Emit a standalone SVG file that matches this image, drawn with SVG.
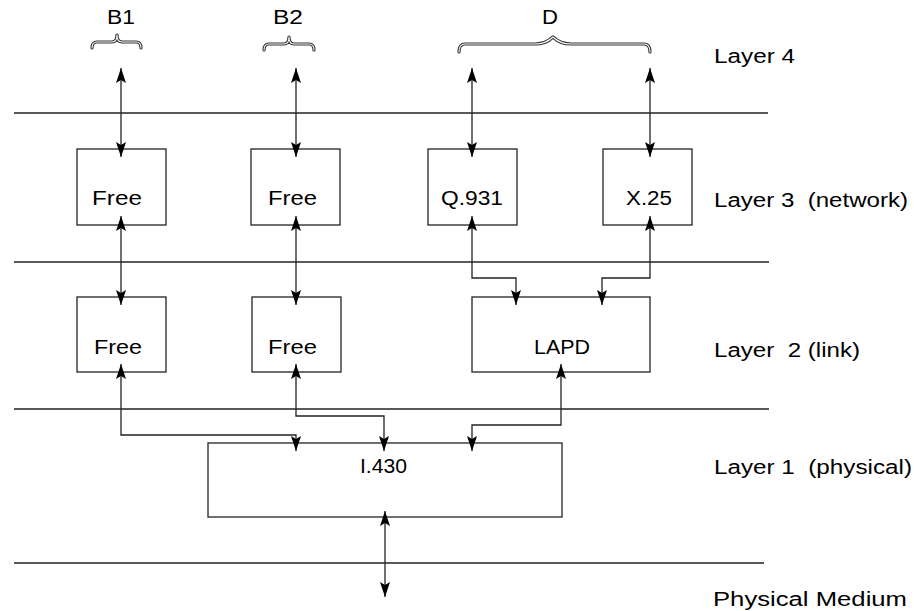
<svg xmlns="http://www.w3.org/2000/svg" width="914" height="611" viewBox="0 0 914 611">
<style>
.t{font-family:"Liberation Sans",Arial,sans-serif;font-size:20px;fill:#000;white-space:pre}
.box{fill:#fff;stroke:#222;stroke-width:1.3}
.sep{stroke:#222;stroke-width:1.3;fill:none}
.c{stroke:#222;stroke-width:1.3;fill:none;marker-start:url(#ah);marker-end:url(#ah)}
.br{fill:none;stroke:#333;stroke-width:3.2;stroke-linejoin:round;stroke-linecap:round}
.bri{fill:none;stroke:#fff;stroke-width:1.1;stroke-linejoin:round;stroke-linecap:round}
</style>
<defs>
<marker id="ah" markerUnits="userSpaceOnUse" markerWidth="15" markerHeight="11" viewBox="0 0 15 11" refX="15" refY="5.5" orient="auto-start-reverse">
<path d="M0,0.5 L15,5.5 L0,10.5 L3,5.5 z" fill="#000"/>
</marker>
</defs>

<g id="separators">
<line class="sep" x1="14" y1="113" x2="768" y2="113"/>
<line class="sep" x1="14" y1="262" x2="769" y2="262"/>
<line class="sep" x1="14" y1="409" x2="769" y2="409"/>
<line class="sep" x1="14" y1="563" x2="764" y2="563"/>
</g>

<g id="braces">
<g id="brace-B1">
<path class="br" d="M92,48 Q92,42 97,42 L112,42 Q117,42 117,35 Q117,42 122,42 L136,42 Q141,42 141,48"/>
<path class="bri" d="M92,48 Q92,42 97,42 L112,42 Q117,42 117,35 Q117,42 122,42 L136,42 Q141,42 141,48"/>
<text class="t" x="107" y="24" textLength="28" lengthAdjust="spacingAndGlyphs">B1</text>
</g>
<g id="brace-B2">
<path class="br" d="M264,50 Q264,44 269,44 L284,44 Q289,44 289,37 Q289,44 294,44 L309,44 Q314,44 314,50"/>
<path class="bri" d="M264,50 Q264,44 269,44 L284,44 Q289,44 289,37 Q289,44 294,44 L309,44 Q314,44 314,50"/>
<text class="t" x="273" y="24" textLength="30" lengthAdjust="spacingAndGlyphs">B2</text>
</g>
<g id="brace-D">
<path class="br" d="M459,52 Q459,44 465,44 L535,44 Q546,44 553,37 Q560,44 571,44 L644,44 Q650,44 650,52"/>
<path class="bri" d="M459,52 Q459,44 465,44 L535,44 Q546,44 553,37 Q560,44 571,44 L644,44 Q650,44 650,52"/>
<text class="t" x="542" y="24" textLength="16" lengthAdjust="spacingAndGlyphs">D</text>
</g>
</g>

<g id="n-free3a">
<rect class="box" x="77" y="149" width="89" height="76"/>
<text class="t" x="92" y="205" textLength="50" lengthAdjust="spacingAndGlyphs">Free</text>
</g>
<g id="n-free3b">
<rect class="box" x="251" y="149" width="89" height="76"/>
<text class="t" x="268" y="205" textLength="49" lengthAdjust="spacingAndGlyphs">Free</text>
</g>
<g id="n-q931">
<rect class="box" x="428" y="149" width="89" height="76"/>
<text class="t" x="441" y="205" textLength="62" lengthAdjust="spacingAndGlyphs">Q.931</text>
</g>
<g id="n-x25">
<rect class="box" x="603" y="149" width="89" height="76"/>
<text class="t" x="626" y="205" textLength="46" lengthAdjust="spacingAndGlyphs">X.25</text>
</g>

<g id="n-free2a">
<rect class="box" x="77" y="297" width="89" height="75"/>
<text class="t" x="94" y="354" textLength="48" lengthAdjust="spacingAndGlyphs">Free</text>
</g>
<g id="n-free2b">
<rect class="box" x="252" y="297" width="89" height="75"/>
<text class="t" x="268" y="354" textLength="49" lengthAdjust="spacingAndGlyphs">Free</text>
</g>
<g id="n-lapd">
<rect class="box" x="472" y="297" width="178" height="75"/>
<text class="t" x="534" y="354" textLength="56" lengthAdjust="spacingAndGlyphs">LAPD</text>
</g>

<g id="n-i430">
<rect class="box" x="208" y="443" width="354" height="74"/>
<text class="t" x="360" y="473" textLength="47" lengthAdjust="spacingAndGlyphs">I.430</text>
</g>

<g id="connectors">
<path class="c" d="M121,68 L121,157"/>
<path class="c" d="M296,68 L296,157"/>
<path class="c" d="M472,68 L472,157"/>
<path class="c" d="M650,68 L650,157"/>

<path class="c" d="M121,216 L121,305"/>
<path class="c" d="M296,216 L296,305"/>
<path class="c" d="M472,216 L472,278 L516,278 L516,305"/>
<path class="c" d="M650,216 L650,278 L602,278 L602,305"/>

<path class="c" d="M121,364 L121,435 L296,435 L296,451"/>
<path class="c" d="M296,364 L296,416 L384,416 L384,451"/>
<path class="c" d="M561,364 L561,425 L472,425 L472,451"/>

<path class="c" d="M385,511 L385,597"/>
</g>

<g id="layer-labels">
<text class="t" x="714" y="63" textLength="81" lengthAdjust="spacingAndGlyphs">Layer 4</text>
<text class="t" x="714" y="207" textLength="194" lengthAdjust="spacingAndGlyphs">Layer 3  (network)</text>
<text class="t" x="714" y="357" textLength="146" lengthAdjust="spacingAndGlyphs">Layer  2 (link)</text>
<text class="t" x="714" y="474" textLength="198" lengthAdjust="spacingAndGlyphs">Layer 1  (physical)</text>
<text class="t" x="713" y="606" textLength="194" lengthAdjust="spacingAndGlyphs">Physical Medium</text>
</g>
</svg>
